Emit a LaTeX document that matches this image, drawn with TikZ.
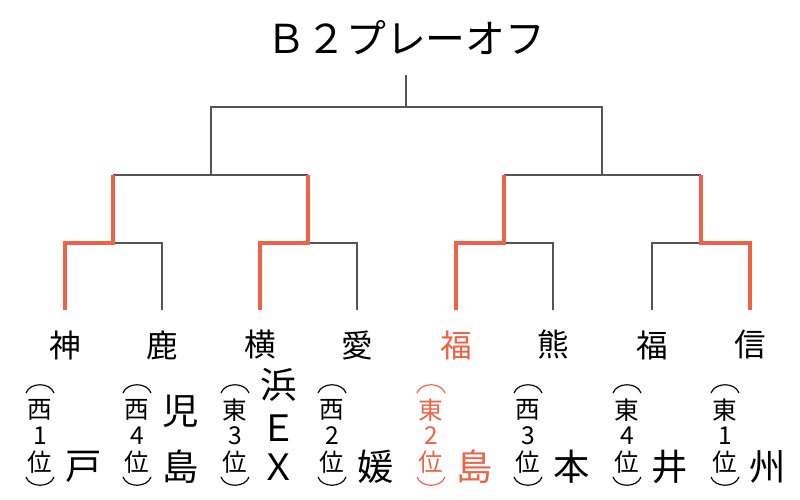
\documentclass[tikz,border=0pt]{standalone}
\usepackage{fontspec}
\newfontfamily\jp{Noto Sans CJK JP}
\definecolor{win}{RGB}{238,98,70}
\definecolor{ln}{RGB}{85,85,85}
\begin{document}
\begin{tikzpicture}[x=0.03cm,y=-0.03cm,
  g/.style={draw=ln,line width=1.8pt},
  r/.style={draw=win,line width=2.6pt},
  team/.style={font=\jp\fontsize{27}{27}\selectfont,inner sep=0pt},
  sm/.style={font=\jp\fontsize{21}{21}\selectfont,inner sep=0pt},
  nm/.style={font=\jp\fontsize{31}{31}\selectfont,inner sep=0pt},
  par/.style={line width=1pt}]
\useasboundingbox (0,0) rectangle (800,500);
\node[font=\jp\fontsize{34}{34}\selectfont] (title) at (406,38) {Ｂ２プレーオフ};
\foreach \i/\x in {1/65,2/162,3/260,4/357,5/456,6/553,7/652,8/750}{
  \coordinate (b\i) at (\x,310); \coordinate (t\i) at (\x,243);}
\foreach \i/\x in {1/113,2/308,3/504,4/701}{
  \coordinate (m\i) at (\x,243); \coordinate (u\i) at (\x,175);}
\coordinate (sL) at (211,175); \coordinate (sR) at (602,175);
\coordinate (sLt) at (211,107); \coordinate (sRt) at (602,107);
\coordinate (f) at (406,107); \coordinate (ft) at (406,75);
\draw[g] (b2) -- (t2) -- (m1);
\draw[g] (b4) -- (t4) -- (m2);
\draw[g] (b6) -- (t6) -- (m3);
\draw[g] (b7) -- (t7) -- (m4);
\draw[g] (u1) -- (u2); \draw[g] (u3) -- (u4);
\draw[g] (sL) -- (sLt) -- (sRt) -- (sR);
\draw[g] (f) -- (ft);
\draw[r] (b1) -- (t1) -- (m1) -- (u1);
\draw[r] (b3) -- (t3) -- (m2) -- (u2);
\draw[r] (b5) -- (t5) -- (m3) -- (u3);
\draw[r] (b8) -- (t8) -- (m4) -- (u4);
\foreach \i/\x/\n/\c in {1/65/神/black,2/162/鹿/black,3/260/横/black,4/357/愛/black,5/456/福/win,6/553/熊/black,7/652/福/black,8/750/信/black}{
  \node[team,text=\c] (n\i) at (\x,345) {\n};}
\foreach \i/\x/\a/\k/\c in {1/65/西/1/black,2/162/西/4/black,3/260/東/3/black,4/357/西/2/black,5/456/東/2/win,6/553/西/3/black,7/652/東/4/black,8/750/東/1/black}{
  \begin{scope}[text=\c,draw=\c]
  \coordinate (pa\i) at (\x-39,393); \coordinate (pb\i) at (\x-11,393);
  \draw[par] (pa\i) .. controls (\x-35,382) and (\x-15,382) .. (pb\i);
  \node[sm] (a\i) at (\x-25,410) {\a};
  \node[sm] (k\i) at (\x-25,436) {\k};
  \node[sm] (v\i) at (\x-25,462) {位};
  \coordinate (qa\i) at (\x-39,477); \coordinate (qb\i) at (\x-11,477);
  \draw[par] (qa\i) .. controls (\x-35,488) and (\x-15,488) .. (qb\i);
  \end{scope}}
\node[nm] (c1) at (84,467) {戸};
\node[nm] (c2a) at (181,411) {児};
\node[nm] (c2b) at (181,467) {島};
\node[nm] (c3a) at (279,385) {浜};
\node[nm] (c3b) at (279,428) {Ｅ};
\node[nm] (c3c) at (279,467) {Ｘ};
\node[nm] (c4) at (376,467) {媛};
\node[nm,text=win] (c5) at (475,467) {島};
\node[nm] (c6) at (572,467) {本};
\node[nm] (c7) at (670,467) {井};
\node[nm] (c8) at (768,467) {州};
\end{tikzpicture}
\end{document}
